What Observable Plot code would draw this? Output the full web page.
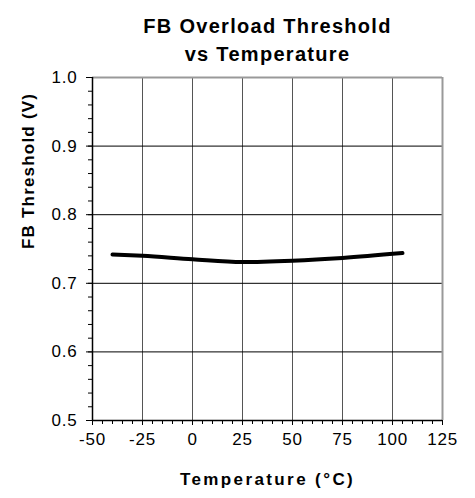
<!DOCTYPE html>
<html>
<head>
<meta charset="utf-8">
<script src="https://cdn.jsdelivr.net/npm/d3@7"></script>
<script src="https://cdn.jsdelivr.net/npm/@observablehq/plot@0.6"></script>
<style>
  html, body { margin: 0; padding: 0; background: #fff; }
</style>
</head>
<body>
<div id="chart"></div>
<script>
const temperature = [-40, -25, 0, 25, 50, 75, 105];
const threshold = [0.742, 0.740, 0.735, 0.731, 0.733, 0.737, 0.744];
const xTicks = [-50, -25, 0, 25, 50, 75, 100, 125];
const yTicks = [0.5, 0.6, 0.7, 0.8, 0.9, 1.0];
const xMinor = d3.range(-50, 126, 5);
const yMinor = d3.range(0, 26).map(i => +(0.5 + i * 0.02).toFixed(2));
const titleLines = ["FB Overload Threshold", "vs Temperature"];
const xLabel = "Temperature (°C)";
const yLabel = "FB Threshold (V)";

const data = temperature.map((t, i) => ({t, v: threshold[i]}));

const chart = Plot.plot({
  width: 475,
  height: 498,
  marginLeft: 92,
  marginRight: 33,
  marginTop: 77,
  marginBottom: 78,
  style: {fontFamily: "Liberation Sans, Arial, sans-serif", fontSize: "17px", background: "#fff", color: "#000"},
  x: {domain: [-50, 125], label: null},
  y: {domain: [0.5, 1.0], label: null},
  marks: [
    Plot.gridX(xTicks.filter(d => d > -50 && d < 125), {stroke: "#555", strokeOpacity: 1, strokeWidth: 1}),
    Plot.gridY(yTicks.filter(d => d > 0.5 && d < 1.0), {stroke: "#000", strokeOpacity: 1, strokeWidth: 1}),
    Plot.ruleY([1.0], {stroke: "#999", strokeWidth: 2}),
    Plot.ruleX([125], {stroke: "#999", strokeWidth: 2}),
    Plot.axisX(xMinor, {tickSize: 4, text: null, label: null, stroke: "#000"}),
    Plot.axisY(yMinor, {tickSize: 4, text: null, label: null, stroke: "#000"}),
    Plot.axisX(xTicks, {tickSize: 5, tickPadding: 7, label: null, tickFormat: d => String(d), fontSize: 17}),
    Plot.axisY(yTicks, {tickSize: 6, tickPadding: 9, label: null, tickFormat: d3.format(".1f"), fontSize: 17}),
    Plot.ruleX([-50], {stroke: "#000", strokeWidth: 1.5}),
    Plot.ruleY([0.5], {stroke: "#000", strokeWidth: 1.5}),
    Plot.line(data, {x: "t", y: "v", stroke: "#000", strokeWidth: 4, curve: "monotone-x"}),
    Plot.text([titleLines[0]], {frameAnchor: "top", dy: -59, fontWeight: "bold", fontSize: 20, text: d => d}),
    Plot.text([titleLines[1]], {frameAnchor: "top", dy: -31, fontWeight: "bold", fontSize: 20, text: d => d}),
    Plot.text([xLabel], {frameAnchor: "bottom", dy: 64, fontWeight: "bold", fontSize: 17, text: d => d}),
    Plot.text([yLabel], {frameAnchor: "left", dx: -64, rotate: -90, fontWeight: "bold", fontSize: 17, text: d => d})
  ]
});
document.getElementById("chart").appendChild(chart);
chart.querySelectorAll("text").forEach(el => {
  const s = el.textContent;
  if (titleLines.includes(s)) el.style.letterSpacing = "1.3px";
  else if (s === xLabel) el.style.letterSpacing = "2.4px";
  else if (s === yLabel) el.style.letterSpacing = "1.2px";
  else el.style.letterSpacing = "0.8px";
});
</script>
</body>
</html>
